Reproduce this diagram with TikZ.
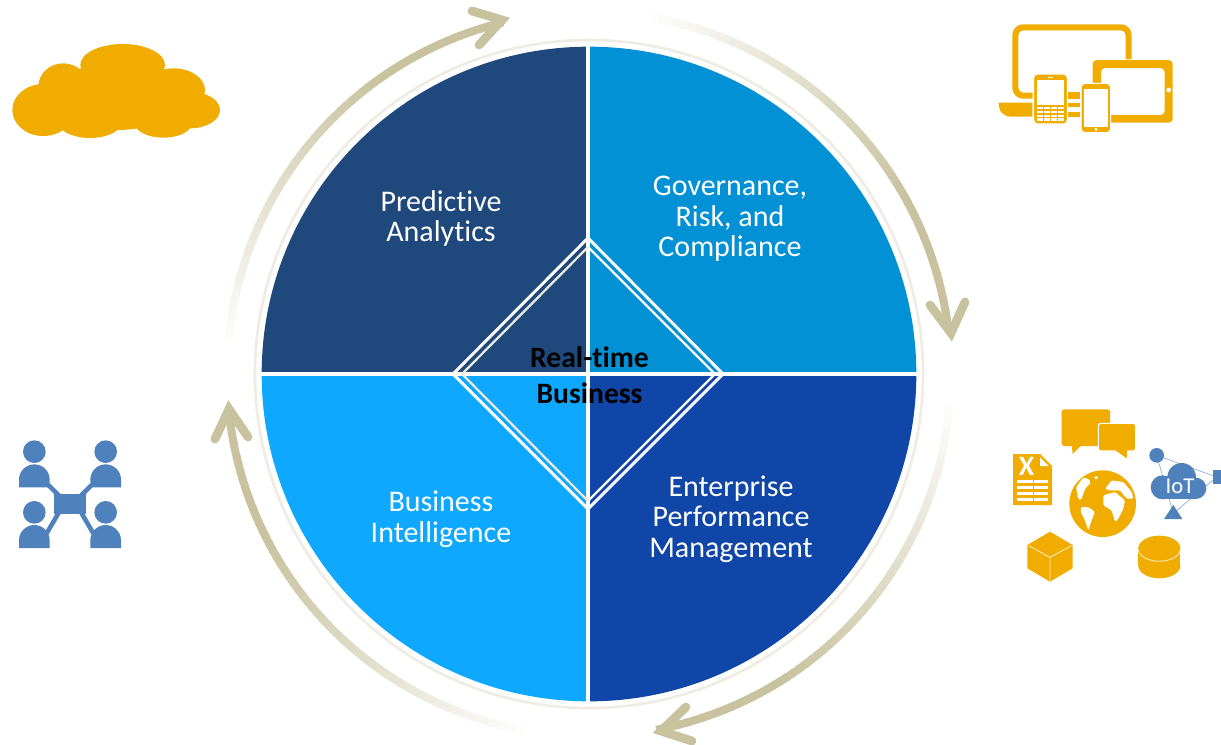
\documentclass[tikz,border=0pt]{standalone}
\usepackage{fontspec}
\setmainfont[Ligatures=NoCommon]{Carlito}
\definecolor{arrowc}{HTML}{C8C29E}
\definecolor{ringc}{HTML}{EFEDE3}
\definecolor{navyq}{HTML}{1F497D}
\definecolor{skyq}{HTML}{0291D5}
\definecolor{lightq}{HTML}{0FA8FF}
\definecolor{royalq}{HTML}{0F46A8}
\definecolor{iconor}{HTML}{F0AD00}
\definecolor{iconbl}{HTML}{4F81BD}
\definecolor{innerd}{HTML}{ECEADF}
\tikzset{
  quadtext/.style={text=white,font=\fontsize{22.5}{22.9}\selectfont,align=center,inner sep=0pt},
  hubtext/.style={text=black,font=\bfseries\fontsize{22.2}{27.4}\selectfont,align=center,inner sep=0pt},
  orange/.style={fill=iconor,draw=none},
  blueic/.style={fill=iconbl,draw=none},
  punch/.style={fill=white,draw=none},
  headline/.style={draw=arrowc,line width=6.6pt,line cap=round,line join=miter,miter limit=10},
  zoomgrid/.style={x=0.25pt,y=-0.25pt}
}
\newcommand{\gradarc}[2]{%
  \foreach \i in {0,...,59}{%
    \pgfmathsetmacro{\aa}{#1+(#2-#1)*\i/60}%
    \pgfmathsetmacro{\pc}{min(100,4+100*\i/44)}%
    \draw[draw=arrowc!\pc!white,line width=6pt,line cap=butt]
      ({589+362*cos(\aa)},{374-362*sin(\aa)}) arc[start angle=\aa,delta angle=(#2-#1)*1.25/60,radius=271.5pt];
  }%
}
\begin{document}
\begin{tikzpicture}[x=0.75pt,y=-0.75pt]
\useasboundingbox (0,0) rectangle (1221,744);
\fill[white] (0,0) rectangle (1221,744);

% ---- gradient arc arrows
\gradarc{175}{104}
\gradarc{80}{8}
\gradarc{-5}{-79}
\gradarc{259.5}{186}
\coordinate (h1a) at (472,11); \coordinate (h1v) at (502,20); \coordinate (h1b) at (479,45);
\coordinate (h2a) at (930,305); \coordinate (h2v) at (951,333); \coordinate (h2b) at (965,302);
\coordinate (h3a) at (686,707); \coordinate (h3v) at (661,731); \coordinate (h3b) at (692,741);
\coordinate (h4a) at (215,439); \coordinate (h4v) at (229,409); \coordinate (h4b) at (248,437);
\draw[headline] (h1a) -- (h1v) -- (h1b);
\draw[headline] (h2a) -- (h2v) -- (h2b);
\draw[headline] (h3a) -- (h3v) -- (h3b);
\draw[headline] (h4a) -- (h4v) -- (h4b);

% ---- wheel
\coordinate (C) at (589,374);
\draw[ringc,line width=2pt] (C) circle[radius=250.5pt];
\fill[navyq]  (C) -- ++(0pt,245.5pt) arc[start angle=90,end angle=180,radius=245.5pt] -- cycle;
\fill[skyq]   (C) -- ++(245.5pt,0pt) arc[start angle=0,end angle=90,radius=245.5pt] -- cycle;
\fill[lightq] (C) -- ++(-245.5pt,0pt) arc[start angle=180,end angle=270,radius=245.5pt] -- cycle;
\fill[royalq] (C) -- ++(0pt,-245.5pt) arc[start angle=270,end angle=360,radius=245.5pt] -- cycle;
\draw[white,line width=2.6pt] (588,44) -- (588,704);
\draw[white,line width=2.6pt] (258,374) -- (920,374);

% ---- central diamond
\draw[innerd,line width=1.7pt,line join=miter] (588,247) -- (462,374) -- (588,501);
\draw[white,line width=1.7pt,line join=miter] (588,247) -- (715,374) -- (588,501);
\draw[white,line width=2.2pt,line join=miter] (588,238) -- (723,374) -- (588,509) -- (453,374) -- cycle;

% ---- labels
\node[quadtext] (pa) at (441,218.5) {Predictive\\Analytics};
\node[quadtext] (grc) at (730,219) {Governance,\\Risk, and\\Compliance};
\node[quadtext] (bi) at (441,519) {Business\\Intelligence};
\node[quadtext] (epm) at (731,519) {Enterprise\\Performance\\Management};
\node[hubtext] (hub) at (589.5,375) {Real-time\\Business};

% ---- cloud (top left)
\begin{scope}[shift={(0,30)},zoomgrid]
  \fill[orange] (130,240) ellipse[x radius=93,y radius=78];
  \fill[orange] (190,170) ellipse[x radius=75,y radius=70];
  \fill[orange] (368,105) ellipse[x radius=127,y radius=63];
  \fill[orange] (520,180) ellipse[x radius=95,y radius=65];
  \fill[orange] (570,240) ellipse[x radius=90,y radius=55];
  \fill[orange] (270,270) ellipse[x radius=100,y radius=54];
  \fill[orange] (490,280) ellipse[x radius=85,y radius=43];
  \fill[orange] (350,200) ellipse[x radius=200,y radius=100];
\end{scope}

% ---- devices (top right)
\begin{scope}[shift={(980,0)},zoomgrid]
  \draw[iconor,line width=4.6pt,rounded corners=6pt] (446,178) -- (446,82) -- (106,82) -- (106,287) -- (158,287);
  \fill[orange] (264,277) rectangle (300,297);
  \fill[orange] (264,308) rectangle (300,322);
  \fill[orange] (264,335) rectangle (300,350);
  \fill[orange] (56,308) -- (157,308) -- (157,350) -- (95,350) .. controls (70,350) and (56,335) .. (56,308) -- cycle;
  % tablet
  \fill[orange,rounded corners=3pt,even odd rule] (338,180) rectangle (578,368) (363,204) rectangle (554,345);
  \fill[punch] (566,270) circle[radius=7];
  % phone
  \fill[orange,draw=white,line width=0.8pt,rounded corners=3pt] (303,250) rectangle (392,398);
  \fill[punch] (313,268) rectangle (383,380);
  \fill[punch] (348,388) circle[radius=5];
  % blackberry
  \fill[orange,draw=white,line width=0.8pt,rounded corners=3pt] (161,222) rectangle (262,372);
  \fill[punch] (171,240) rectangle (251,314);
  \fill[punch] (204,230) rectangle (218,234);
  \foreach \ky in {321,333,344,355}{
    \foreach \kx in {171,193,213,235}{
      \fill[punch] (\kx,\ky) rectangle ++(17,7);
    }
  }
\end{scope}

% ---- data sources (right)
\begin{scope}[shift={(1000,400)},zoomgrid]
  % chat bubbles
  \fill[orange,rounded corners=2pt] (185,28) rectangle (330,138);
  \fill[orange] (215,130) -- (218,162) -- (250,130) -- cycle;
  \fill[orange,draw=white,line width=0.8pt,rounded corners=2pt] (295,70) rectangle (407,153);
  \fill[orange] (345,150) -- (380,175) -- (382,150) -- cycle;
  % spreadsheet
  \fill[orange] (39,162) -- (120,162) -- (156,198) -- (156,315) -- (39,315) -- cycle;
  \fill[punch] (120,172) -- (120,198) -- (146,198) -- cycle;
  \node[text=white,font=\bfseries\fontsize{21}{21}\selectfont,inner sep=0pt] (xl) at (80,198) {X};
  \foreach \ry in {240,258,275,293}{
    \fill[punch] (52,\ry) rectangle (98,\ry+10);
    \fill[punch] (102,\ry) rectangle (145,\ry+10);
  }
  % globe
  \fill[orange] (308,311) circle[radius=100];
  \fill[punch,rounded corners=1pt] (228,262) -- (250,232) -- (268,238) -- (272,250) -- (258,262) -- (250,280) -- (244,300) -- (234,296) -- (232,280) -- cycle;
  \fill[punch,rounded corners=1pt] (280,231) -- (295,228) -- (290,240) -- cycle;
  \fill[punch,rounded corners=1pt] (243,321) -- (265,321) -- (285,336) -- (275,361) -- (265,391) -- (255,361) -- (242,336) -- cycle;
  \fill[punch,rounded corners=1pt] (310,286) -- (345,276) -- (375,301) -- (370,326) -- (355,356) -- (345,366) -- (335,331) -- (310,316) -- cycle;
  \fill[punch,rounded corners=1pt] (315,266) -- (335,241) -- (370,246) -- (395,276) -- (400,296) -- (380,296) -- (360,271) -- (330,271) -- cycle;
  % cube
  \fill[orange] (150,395) -- (218,435) -- (218,505) -- (150,545) -- (82,505) -- (82,435) -- cycle;
  \draw[white!70!iconor,line width=0.7pt] (86,437) -- (150,472) -- (214,437) (150,472) -- (150,544);
  % cylinder
  \fill[orange] (415,445) rectangle (541,497);
  \fill[orange] (478,445) ellipse[x radius=63,y radius=38];
  \fill[orange] (478,497) ellipse[x radius=63,y radius=38];
  \draw[white!70!iconor,line width=0.7pt] (415,447) arc[start angle=180,end angle=360,x radius=15.75pt,y radius=9.2pt];
  % IoT
  \coordinate (iotc) at (470,166); \coordinate (iots) at (650,231); \coordinate (iott) at (520,340);
  \draw[iconbl!70!white,line width=0.45pt] (iotc) -- (iots) -- (iott) -- cycle;
  \fill[blueic] (470,166) circle[radius=22];
  \fill[blueic] (638,210) rectangle (664,252);
  \fill[blueic] (492,357) -- (547,357) -- (520,315) -- cycle;
  \fill[blueic] (488,262) circle[radius=36];
  \fill[blueic] (545,232) circle[radius=43];
  \fill[blueic] (587,265) circle[radius=32];
  \fill[blueic] (488,262) rectangle (587,297);
  \node[text=white,font=\fontsize{17}{17}\selectfont,inner sep=0pt] (iot) at (540,258) {IoT};
\end{scope}

% ---- people network (left)
\begin{scope}[shift={(0,430)},zoomgrid]
  \draw[iconbl,line width=3.4pt] (145,165) -- (180,200) (275,165) -- (240,200) (178,245) -- (140,310) (242,245) -- (280,310);
  \fill[blueic] (163,192) rectangle (257,252);
  \foreach \px/\py in {103/0,317/0,103/182,317/182}{
    \begin{scope}[yshift={\py*-0.25pt}]
      \fill[blueic] (\px,65) circle[radius=34];
      \fill[blueic] (\px-46,172) -- (\px-46,149) arc[start angle=180,end angle=0,radius=11.5pt] -- (\px+46,172) -- cycle;
    \end{scope}
  }
\end{scope}
\end{tikzpicture}
\end{document}
